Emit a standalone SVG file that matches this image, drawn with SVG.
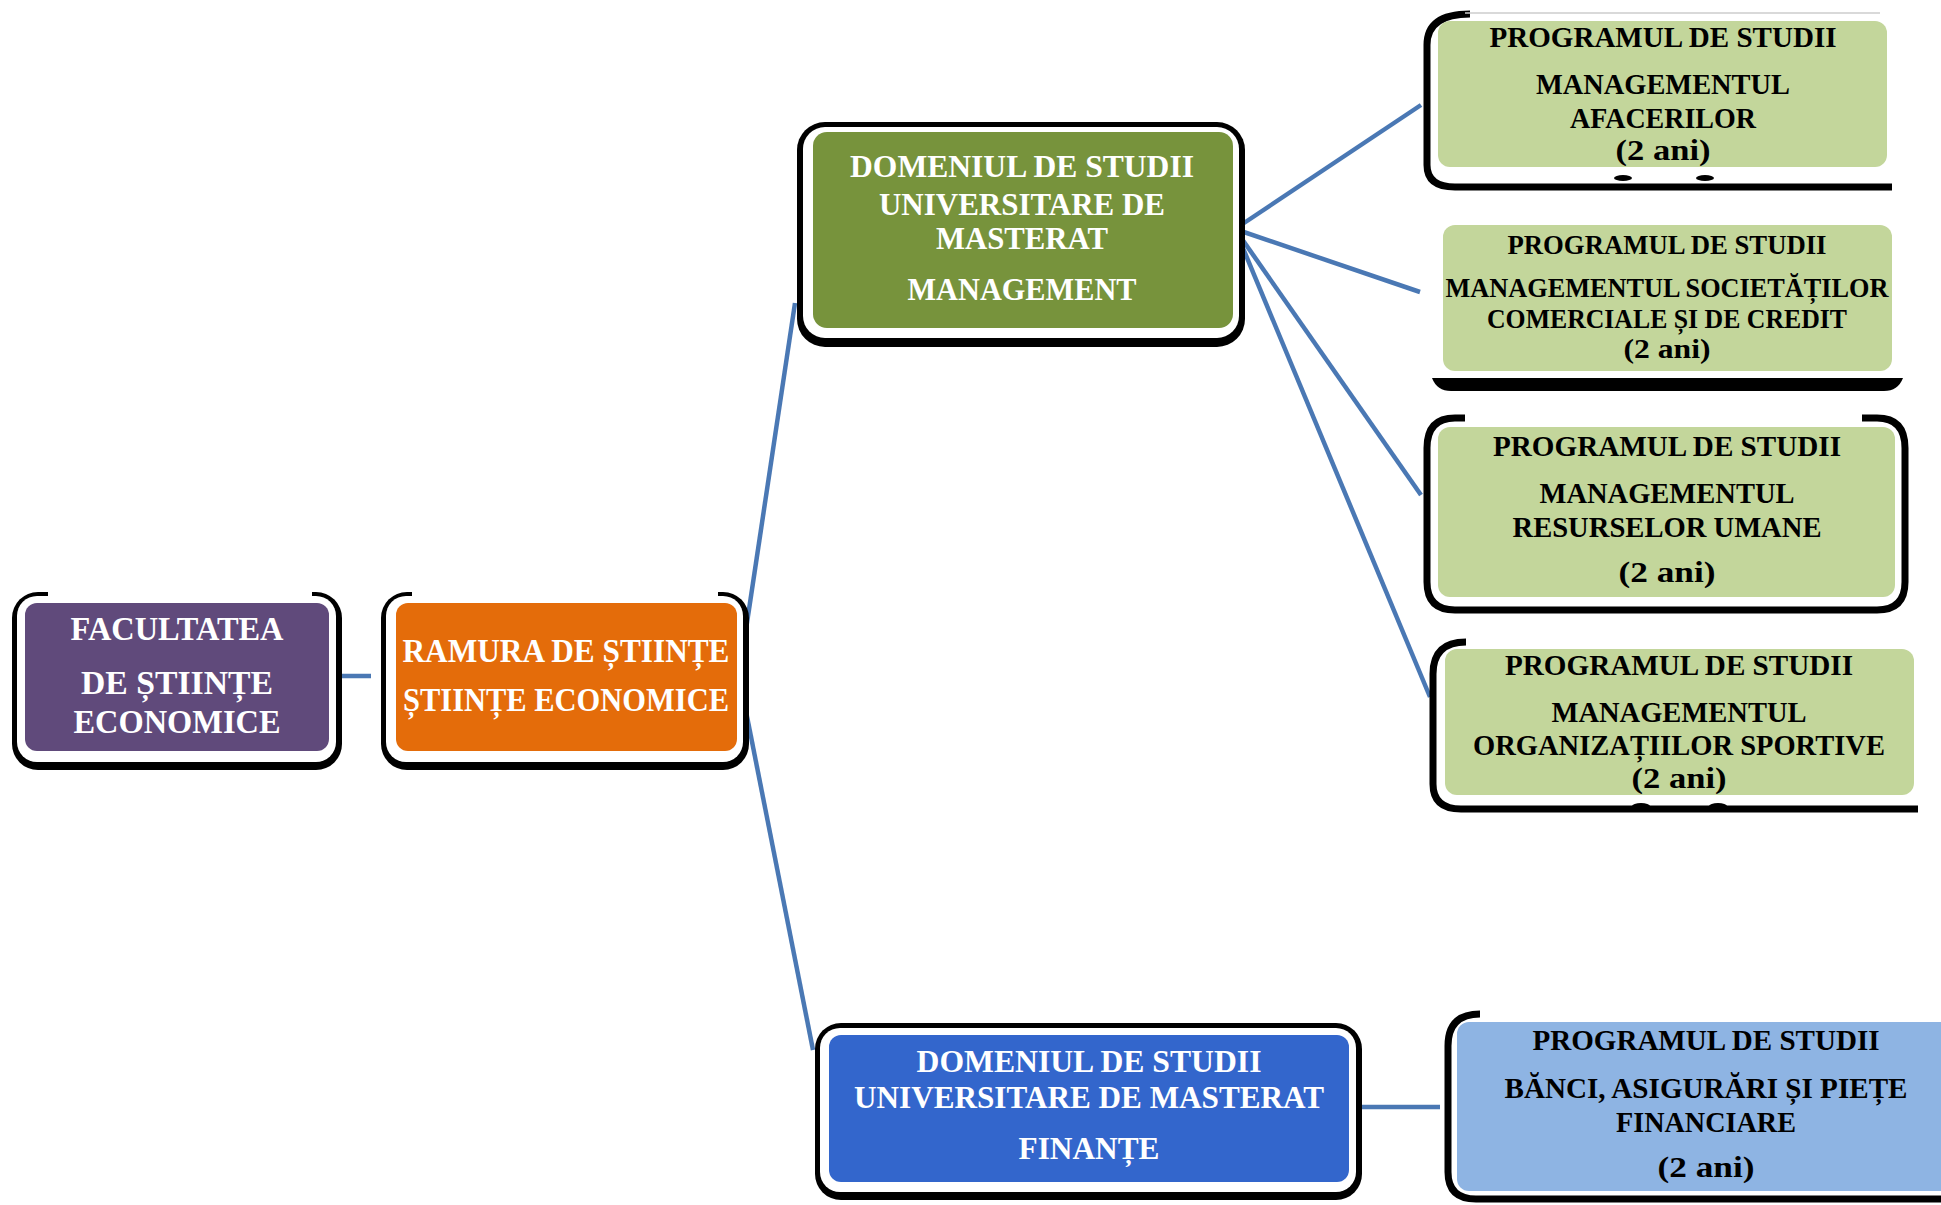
<svg xmlns="http://www.w3.org/2000/svg" width="1941" height="1205" viewBox="0 0 1941 1205">
<style>
.t{font-family:"Liberation Serif","Times New Roman",serif;font-weight:bold;text-anchor:middle}
.tw{fill:#ffffff}
.tk{fill:#000000}
.conn{stroke:#4a78b4;stroke-width:4.5;fill:none;stroke-linecap:butt}
.blk{fill:#000000}
.wht{fill:#ffffff}
.frame{fill:none;stroke:#000000;stroke-width:7}
.pg{fill:#c3d69b}
</style>
<rect width="1941" height="1205" fill="#ffffff"/>
<g id="connectors">
<path class="conn" d="M332,676 H371"/>
<path class="conn" d="M739,676 L795,303"/>
<path class="conn" d="M739,676 L813,1050"/>
<path class="conn" d="M1235,229 L1421,105"/>
<path class="conn" d="M1235,229 L1420,292"/>
<path class="conn" d="M1235,229 L1421,495"/>
<path class="conn" d="M1235,229 L1430,697"/>
<path class="conn" d="M1352,1107 H1440"/>
</g>
<g id="facultatea">
<rect class="blk" x="12" y="592" width="330" height="178" rx="26"/>
<rect class="wht" x="17" y="596" width="319" height="166" rx="20"/>
<rect class="wht" x="48" y="588" width="264" height="9"/>
<rect x="25" y="603" width="304" height="148" rx="12" fill="#604a7b"/>
<text class="t tw" font-size="33" x="177" y="640" textLength="213" lengthAdjust="spacingAndGlyphs">FACULTATEA</text>
<text class="t tw" font-size="33" x="177" y="694" textLength="192" lengthAdjust="spacingAndGlyphs">DE ȘTIINȚE</text>
<text class="t tw" font-size="33" x="177" y="733" textLength="207" lengthAdjust="spacingAndGlyphs">ECONOMICE</text>
</g>
<g id="ramura">
<rect class="blk" x="381" y="592" width="368" height="178" rx="26"/>
<rect class="wht" x="386" y="596" width="357" height="166" rx="20"/>
<rect class="wht" x="412" y="588" width="306" height="9"/>
<rect x="396" y="603" width="341" height="148" rx="12" fill="#e46c0a"/>
<text class="t tw" font-size="33" x="566" y="662" textLength="327" lengthAdjust="spacingAndGlyphs">RAMURA DE ȘTIINȚE</text>
<text class="t tw" font-size="33" x="566" y="711" textLength="326" lengthAdjust="spacingAndGlyphs">ȘTIINȚE ECONOMICE</text>
</g>
<g id="domeniu-management">
<rect class="blk" x="797" y="122" width="448" height="225" rx="28"/>
<rect class="wht" x="803" y="127" width="436" height="211" rx="22"/>
<rect x="813" y="132" width="420" height="196" rx="14" fill="#77933c"/>
<text class="t tw" font-size="31" x="1022" y="177" textLength="344" lengthAdjust="spacingAndGlyphs">DOMENIUL DE STUDII</text>
<text class="t tw" font-size="31" x="1022" y="215" textLength="286" lengthAdjust="spacingAndGlyphs">UNIVERSITARE DE</text>
<text class="t tw" font-size="31" x="1022" y="249" textLength="172" lengthAdjust="spacingAndGlyphs">MASTERAT</text>
<text class="t tw" font-size="31" x="1022" y="300" textLength="229" lengthAdjust="spacingAndGlyphs">MANAGEMENT</text>
</g>
<g id="domeniu-finante">
<rect class="blk" x="815" y="1023" width="547" height="177" rx="26"/>
<rect class="wht" x="820" y="1028" width="536" height="164" rx="20"/>
<rect x="829" y="1035" width="520" height="147" rx="12" fill="#3366cc"/>
<text class="t tw" font-size="31" x="1089" y="1072" textLength="345" lengthAdjust="spacingAndGlyphs">DOMENIUL DE STUDII</text>
<text class="t tw" font-size="31" x="1089" y="1108" textLength="470" lengthAdjust="spacingAndGlyphs">UNIVERSITARE DE MASTERAT</text>
<text class="t tw" font-size="31" x="1089" y="1159" textLength="141" lengthAdjust="spacingAndGlyphs">FINANȚE</text>
</g>
<g id="program-afaceri">
<path class="frame" d="M1470,14 Q1427,14 1427,45 V165 Q1427,187 1455,187 H1892"/>
<path d="M1465,13 H1880" stroke="#cccccc" stroke-width="1.5"/>
<rect class="pg" x="1438" y="21" width="449" height="146" rx="12"/>
<ellipse class="blk" cx="1623" cy="178" rx="9" ry="3"/>
<ellipse class="blk" cx="1705" cy="178" rx="9" ry="3"/>
<text class="t tk" font-size="29" x="1663" y="47" textLength="347" lengthAdjust="spacingAndGlyphs">PROGRAMUL DE STUDII</text>
<text class="t tk" font-size="29" x="1663" y="94" textLength="254" lengthAdjust="spacingAndGlyphs">MANAGEMENTUL</text>
<text class="t tk" font-size="29" x="1663" y="128" textLength="186" lengthAdjust="spacingAndGlyphs">AFACERILOR</text>
<text class="t tk" font-size="29" x="1663" y="160" textLength="95" lengthAdjust="spacingAndGlyphs">(2 ani)</text>
</g>
<g id="program-societati">
<path class="blk" d="M1432,378 H1903 Q1898,391 1884,391 H1451 Q1437,391 1432,378 Z"/>
<rect class="pg" x="1443" y="225" width="449" height="146" rx="12"/>
<text class="t tk" font-size="27" x="1667" y="254" textLength="319" lengthAdjust="spacingAndGlyphs">PROGRAMUL DE STUDII</text>
<text class="t tk" font-size="27" x="1667" y="297" textLength="443" lengthAdjust="spacingAndGlyphs">MANAGEMENTUL SOCIETĂȚILOR</text>
<text class="t tk" font-size="27" x="1667" y="328" textLength="360" lengthAdjust="spacingAndGlyphs">COMERCIALE ȘI DE CREDIT</text>
<text class="t tk" font-size="27" x="1667" y="358" textLength="87" lengthAdjust="spacingAndGlyphs">(2 ani)</text>
</g>
<g id="program-resurse">
<path class="frame" d="M1465,418 H1455 Q1427,418 1427,448 V582 Q1427,610 1455,610 H1877 Q1905,610 1905,582 V448 Q1905,418 1877,418 H1862"/>
<rect class="pg" x="1438" y="427" width="457" height="170" rx="12"/>
<text class="t tk" font-size="29" x="1667" y="456" textLength="348" lengthAdjust="spacingAndGlyphs">PROGRAMUL DE STUDII</text>
<text class="t tk" font-size="29" x="1667" y="503" textLength="255" lengthAdjust="spacingAndGlyphs">MANAGEMENTUL</text>
<text class="t tk" font-size="29" x="1667" y="537" textLength="309" lengthAdjust="spacingAndGlyphs">RESURSELOR UMANE</text>
<text class="t tk" font-size="29" x="1667" y="582" textLength="97" lengthAdjust="spacingAndGlyphs">(2 ani)</text>
</g>
<g id="program-sportive">
<path class="frame" d="M1466,642 Q1433,642 1433,674 V784 Q1433,809 1461,809 H1918"/>
<rect class="pg" x="1445" y="649" width="469" height="146" rx="12"/>
<ellipse class="blk" cx="1641" cy="806" rx="9" ry="3"/>
<ellipse class="blk" cx="1718" cy="806" rx="9" ry="3"/>
<text class="t tk" font-size="29" x="1679" y="675" textLength="348" lengthAdjust="spacingAndGlyphs">PROGRAMUL DE STUDII</text>
<text class="t tk" font-size="29" x="1679" y="722" textLength="255" lengthAdjust="spacingAndGlyphs">MANAGEMENTUL</text>
<text class="t tk" font-size="29" x="1679" y="755" textLength="412" lengthAdjust="spacingAndGlyphs">ORGANIZAȚIILOR SPORTIVE</text>
<text class="t tk" font-size="29" x="1679" y="788" textLength="95" lengthAdjust="spacingAndGlyphs">(2 ani)</text>
</g>
<g id="program-banci">
<path class="frame" d="M1480,1014 Q1448,1014 1448,1046 V1172 Q1448,1199 1476,1199 H1941"/>
<rect class="pg" x="1457" y="1022" width="500" height="169" rx="12" fill="#8eb4e3" style="fill:#8eb4e3"/>
<text class="t tk" font-size="29" x="1706" y="1050" textLength="347" lengthAdjust="spacingAndGlyphs">PROGRAMUL DE STUDII</text>
<text class="t tk" font-size="29" x="1706" y="1098" textLength="403" lengthAdjust="spacingAndGlyphs">BĂNCI, ASIGURĂRI ȘI PIEȚE</text>
<text class="t tk" font-size="29" x="1706" y="1132" textLength="180" lengthAdjust="spacingAndGlyphs">FINANCIARE</text>
<text class="t tk" font-size="29" x="1706" y="1177" textLength="97" lengthAdjust="spacingAndGlyphs">(2 ani)</text>
</g>
</svg>
